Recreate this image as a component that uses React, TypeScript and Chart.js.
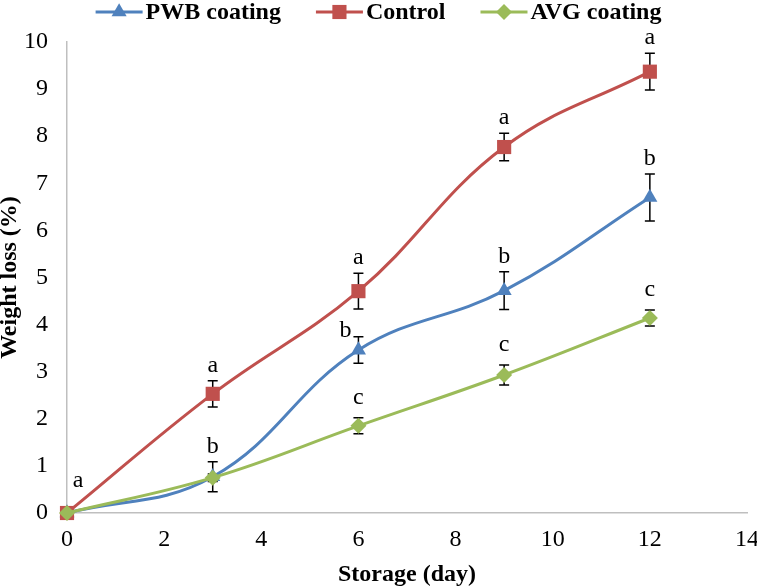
import React, { useEffect, useRef } from 'react';
import { Chart, registerables } from 'chart.js';
import { drawPoint } from 'chart.js/helpers';

Chart.register(...registerables);

const days = [0, 3, 6, 9, 12];

const pwbValues = [0, 0.77, 3.46, 4.72, 6.7];
const pwbErrors = [0, 0.32, 0.28, 0.4, 0.5];
const pwbLetters = ['', 'b', 'b', 'b', 'b'];

const controlValues = [0, 2.53, 4.71, 7.77, 9.37];
const controlErrors = [0, 0.28, 0.38, 0.29, 0.39];
const controlLetters = ['a', 'a', 'a', 'a', 'a'];

const avgValues = [0, 0.75, 1.85, 2.93, 4.14];
const avgErrors = [0, 0.08, 0.17, 0.21, 0.17];
const avgLetters = ['', '', 'c', 'c', 'c'];

const xMin = 0;
const xMax = 14;
const xStep = 2;
const yMin = 0;
const yMax = 10;
const yStep = 1;

const FONT = "'Liberation Serif', 'Times New Roman', serif";
const BLUE = '#4F81BD';
const RED = '#C0504D';
const GREEN = '#9BBB59';

// little pixel nudges for the letters that were placed by hand in the original
const letterNudge: Record<string, { dx: number; dy: number }> = {
  '1:0': { dx: 11, dy: -17 },
  '0:2': { dx: -13, dy: 9 },
};

const errorBars = {
  id: 'errorBars',
  beforeDatasetsDraw(chart: any) {
    const { ctx, scales } = chart;
    ctx.save();
    ctx.strokeStyle = '#000';
    ctx.lineWidth = 1.5;
    chart.data.datasets.forEach((ds: any) => {
      ds.data.forEach((p: any, i: number) => {
        const e = ds.errors[i];
        if (!e) return;
        const x = scales.x.getPixelForValue(p.x);
        const top = scales.y.getPixelForValue(p.y + e);
        const bot = scales.y.getPixelForValue(p.y - e);
        ctx.beginPath();
        ctx.moveTo(x, top);
        ctx.lineTo(x, bot);
        ctx.moveTo(x - 5, top);
        ctx.lineTo(x + 5, top);
        ctx.moveTo(x - 5, bot);
        ctx.lineTo(x + 5, bot);
        ctx.stroke();
      });
    });
    ctx.restore();
  },
  afterDatasetsDraw(chart: any) {
    const { ctx, scales } = chart;
    ctx.save();
    ctx.fillStyle = '#000';
    ctx.font = `24px ${FONT}`;
    ctx.textAlign = 'center';
    ctx.textBaseline = 'alphabetic';
    chart.data.datasets.forEach((ds: any, di: number) => {
      ds.data.forEach((p: any, i: number) => {
        const txt = ds.letters[i];
        if (!txt) return;
        const x = scales.x.getPixelForValue(p.x);
        const top = scales.y.getPixelForValue(p.y + ds.errors[i]);
        const n = letterNudge[`${di}:${i}`] || { dx: 0, dy: 0 };
        ctx.fillText(txt, x + n.dx, top - ds.letterGap + n.dy);
      });
    });
    ctx.restore();
  },
};

const topLegend = {
  id: 'topLegend',
  afterDraw(chart: any) {
    const { ctx, width } = chart;
    const iconW = 47;
    const textGap = 3;
    const itemGap = 35;
    ctx.save();
    ctx.font = `bold 24px ${FONT}`;
    const items = chart.data.datasets.map((ds: any) => ({
      ds,
      w: iconW + textGap + ctx.measureText(ds.label).width,
    }));
    const total = items.reduce((s: number, it: any) => s + it.w, 0) + itemGap * (items.length - 1);
    let x = (width - total) / 2;
    const y = 12;
    items.forEach(({ ds, w }: any) => {
      ctx.strokeStyle = ds.borderColor;
      ctx.lineWidth = 3;
      ctx.beginPath();
      ctx.moveTo(x, y);
      ctx.lineTo(x + iconW, y);
      ctx.stroke();
      ctx.fillStyle = ds.pointBackgroundColor;
      ctx.strokeStyle = ds.pointBackgroundColor;
      drawPoint(ctx, { pointStyle: ds.pointStyle, radius: ds.pointRadius, rotation: 0, borderWidth: 0 } as any, x + iconW / 2, y);
      ctx.fillStyle = '#000';
      ctx.font = `bold 24px ${FONT}`;
      ctx.textAlign = 'left';
      ctx.textBaseline = 'alphabetic';
      ctx.fillText(ds.label, x + iconW + textGap, y + 7);
      x += w + itemGap;
    });
    ctx.restore();
  },
};

const makeSeries = (
  label: string,
  values: number[],
  errors: number[],
  letters: string[],
  color: string,
  pointStyle: string,
  radius: number,
  order: number,
  letterGap: number,
) => ({
  label,
  data: days.map((d, i) => ({ x: d, y: values[i] })),
  errors,
  letters,
  letterGap,
  borderColor: color,
  backgroundColor: color,
  pointBackgroundColor: color,
  pointBorderColor: color,
  pointBorderWidth: 0,
  pointStyle,
  pointRadius: radius,
  borderWidth: 3,
  tension: 0.4,
  clip: false as const,
  order,
});

const WeightLossChart: React.FC = () => {
  const chartRef = useRef<HTMLCanvasElement>(null);

  useEffect(() => {
    document.body.style.margin = '0';
    if (!chartRef.current) return;
    const context = chartRef.current.getContext('2d');
    if (!context) return;

    const tickFont = { family: FONT, size: 24 };
    const titleFont = { family: FONT, size: 24, weight: 'bold' as const, lineHeight: 1 };

    const chart = new Chart(context, {
      type: 'line',
      data: {
        datasets: [
          makeSeries('PWB coating', pwbValues, pwbErrors, pwbLetters, BLUE, 'triangle', 8.7, 2, 9),
          makeSeries('Control', controlValues, controlErrors, controlLetters, RED, 'rect', 10, 1, 9),
          makeSeries('AVG coating', avgValues, avgErrors, avgLetters, GREEN, 'rectRot', 8, 0, 14),
        ] as any,
      },
      options: {
        animation: false,
        responsive: true,
        maintainAspectRatio: false,
        layout: { padding: { top: 42, right: 10, bottom: 0, left: 0 } },
        plugins: {
          legend: { display: false },
          tooltip: { enabled: false },
        },
        scales: {
          x: {
            type: 'linear',
            min: xMin,
            max: xMax,
            ticks: { stepSize: xStep, font: tickFont, color: '#000', padding: 12 },
            grid: { display: false, drawTicks: false },
            border: { display: true, color: '#BFBFBF', width: 1.5 },
            title: { display: true, text: 'Storage (day)', font: titleFont, color: '#000', padding: 0 },
            afterFit: (scale: any) => {
              scale.height = 74;
              scale.paddingLeft = 0;
              scale.paddingRight = 0;
            },
          },
          y: {
            type: 'linear',
            min: yMin,
            max: yMax,
            ticks: { stepSize: yStep, font: tickFont, color: '#000', padding: 19 },
            grid: { display: false, drawTicks: false },
            border: { display: true, color: '#BFBFBF', width: 1.5 },
            title: { display: true, text: 'Weight loss (%)', font: titleFont, color: '#000', padding: { top: -2, bottom: 0 } },
            afterFit: (scale: any) => {
              scale.width = 67;
            },
          },
        },
      },
      plugins: [errorBars, topLegend],
    });

    return () => {
      chart.destroy();
    };
  }, []);

  return (
    <div style={{ position: 'relative', width: 757, height: 587 }}>
      <canvas ref={chartRef} />
    </div>
  );
};

export default function App() {
  return <WeightLossChart />;
}
